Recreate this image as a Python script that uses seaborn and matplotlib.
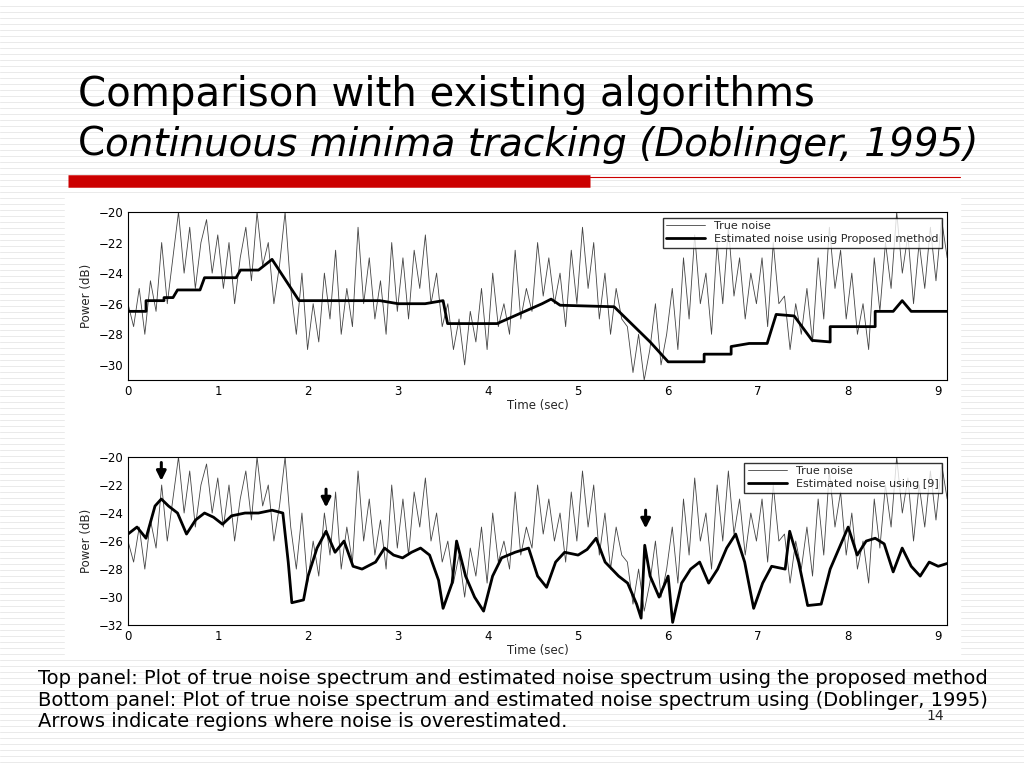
import numpy as np
import pandas as pd
import seaborn as sns
import matplotlib.pyplot as plt
from matplotlib.lines import Line2D

sns.set_style("white")
plt.rcParams['font.family'] = ['DejaVu Sans']

# true noise power (dB), evenly spaced over 0..9.1 s
true_noise = [-26, -27.5, -25, -28, -24.5, -26.5, -22, -26, -23,
              -20, -24, -21, -25, -22, -20.5, -24, -21.5,
              -25, -22, -26, -23, -21, -24.5, -20, -23.5,
              -22, -26, -23.5, -20, -25, -28, -24, -29,
              -26, -28.5, -24, -27, -22.5, -28, -25, -27.5,
              -21, -26, -23, -27, -24.5, -28, -22, -26.5,
              -23, -27, -22.5, -25, -21.5, -26, -24, -27.5,
              -26, -29, -27, -30, -26.5, -28.5, -25, -29,
              -24, -27.5, -26, -28, -22.5, -27, -25, -26.5,
              -22, -25.5, -23, -26, -24, -27.5, -22.5, -26,
              -21, -25, -22, -27, -24, -28, -25, -27,
              -27.5, -30.5, -28, -31, -29, -26, -30, -28,
              -25, -29, -23, -27, -21.5, -26, -24, -28,
              -22, -26, -21, -25.5, -23, -27, -24, -26,
              -23, -27.5, -22, -26, -25.5, -29, -26, -28,
              -25, -28.5, -23, -27, -21, -25, -22.5, -27,
              -24, -28, -26, -29, -23, -26.5, -22, -25,
              -20, -24, -21.5, -26, -22, -25, -21, -24.5, -20.5, -23]
true_time = np.linspace(0, 9.1, len(true_noise))

# proposed method estimate
prop_time = [0, 0.2, 0.2, 0.4, 0.4, 0.5, 0.55, 0.8, 0.85, 1.2, 1.25, 1.45, 1.6,
             1.9, 2.8, 3.0, 3.3, 3.5, 3.55, 4.1, 4.6, 4.7, 4.8, 5.4, 5.8, 6.0,
             6.4, 6.4, 6.7, 6.7, 6.9, 7.1, 7.2, 7.4, 7.6, 7.8, 7.8, 8.3, 8.3,
             8.5, 8.6, 8.7, 9.1]
prop_val = [-26.5, -26.5, -25.8, -25.8, -25.6, -25.6, -25.1, -25.1, -24.3, -24.3,
            -23.8, -23.8, -23.1, -25.8, -25.8, -26.0, -26.0, -25.8, -27.3, -27.3,
            -26.0, -25.7, -26.1, -26.2, -28.5, -29.8, -29.8, -29.3, -29.3, -28.8,
            -28.6, -28.6, -26.7, -26.8, -28.4, -28.5, -27.5, -27.5, -26.5, -26.5,
            -25.8, -26.5, -26.5]

# Doblinger (1995) estimate
dob_time = [0, 0.1, 0.2, 0.3, 0.37, 0.45, 0.55, 0.65, 0.75, 0.85, 0.95, 1.05, 1.15,
            1.3, 1.45, 1.6, 1.72, 1.78, 1.82, 1.95, 2.0, 2.1, 2.2, 2.3, 2.4, 2.5,
            2.6, 2.75, 2.85, 2.95, 3.05, 3.15, 3.25, 3.35, 3.45, 3.5, 3.6, 3.65,
            3.75, 3.85, 3.95, 4.05, 4.15, 4.3, 4.45, 4.55, 4.65, 4.75, 4.85, 5.0,
            5.1, 5.2, 5.3, 5.45, 5.55, 5.65, 5.7, 5.74, 5.8, 5.9, 6.0, 6.05, 6.15,
            6.25, 6.35, 6.45, 6.55, 6.65, 6.75, 6.85, 6.95, 7.05, 7.15, 7.3, 7.35,
            7.45, 7.55, 7.7, 7.8, 7.9, 8.0, 8.1, 8.2, 8.3, 8.4, 8.5, 8.6, 8.7, 8.8,
            8.9, 9.0, 9.1]
dob_val = [-25.5, -25.0, -25.8, -23.5, -23.0, -23.5, -24.0, -25.5, -24.5, -24.0,
           -24.3, -24.8, -24.2, -24.0, -24.0, -23.8, -24.0, -27.5, -30.4, -30.2,
           -28.5, -26.5, -25.3, -26.8, -26.0, -27.8, -28.0, -27.5, -26.5, -27.0,
           -27.2, -26.8, -26.5, -27.0, -28.8, -30.8, -29.0, -26.0, -28.5, -30.0,
           -31.0, -28.5, -27.2, -26.8, -26.5, -28.5, -29.3, -27.5, -26.8, -27.0,
           -26.6, -25.8, -27.5, -28.5, -29.0, -30.5, -31.5, -26.3, -28.5, -30.0,
           -28.5, -31.8, -29.0, -28.0, -27.5, -29.0, -28.0, -26.5, -25.5, -27.5,
           -30.8, -29.0, -27.8, -28.0, -25.3, -27.5, -30.6, -30.5, -28.0, -26.5,
           -25.0, -27.0, -26.0, -25.8, -26.2, -28.2, -26.5, -27.8, -28.5, -27.5,
           -27.8, -27.6]

arrow_x = [0.37, 2.2, 5.75]
arrow_y = [-21.9, -23.8, -25.3]

fig = plt.figure(figsize=(10.24, 7.68), dpi=100)

# slide background stripes
for y in np.arange(0, 1, 6 / 768):
    fig.add_artist(Line2D([0, 1], [y, y], color='#e6e6e6', lw=0.6, zorder=-5))
fig.patches.append(plt.Rectangle((65 / 1024, 113 / 768), 895 / 1024, 460 / 768,
                                 transform=fig.transFigure, color='white', zorder=-4))

fig.text(78 / 1024, 1 - 95 / 768, "Comparison with existing algorithms", fontsize=29,
         va='center', color='black')
c = fig.text(78 / 1024, 1 - 145 / 768, "C", fontsize=28, va='center', color='black')
fig.canvas.draw()
bb = c.get_window_extent()
fig.text(bb.x1 / 1024, 1 - 145 / 768, "ontinuous minima tracking (Doblinger, 1995)",
         fontsize=28, style='italic', va='center', color='black')
fig.add_artist(Line2D([68 / 1024, 590 / 1024], [1 - 181 / 768] * 2, color='#cc0000',
                      lw=9, solid_capstyle='butt'))
fig.add_artist(Line2D([590 / 1024, 960 / 1024], [1 - 177 / 768] * 2, color='#cc0000', lw=0.8))

df_true = pd.DataFrame({'t': true_time, 'p': true_noise})
panels = [
    (0.505, pd.DataFrame({'t': prop_time, 'p': prop_val}),
     "Estimated noise using Proposed method", (-31, -20), [-30, -28, -26, -24, -22, -20]),
    (0.186, pd.DataFrame({'t': dob_time, 'p': dob_val}),
     "Estimated noise using [9]", (-32, -20), [-32, -30, -28, -26, -24, -22, -20]),
]
for bottom, df_est, label, ylim, yticks in panels:
    ax = fig.add_axes([0.125, bottom, 0.8, 0.219])
    sns.lineplot(data=df_true, x='t', y='p', ax=ax, color='#444444', lw=0.6,
                 estimator=None, sort=False, label="True noise")
    sns.lineplot(data=df_est, x='t', y='p', ax=ax, color='black', lw=2,
                 estimator=None, sort=False, label=label)
    ax.set_xlim(0, 9.1)
    ax.set_ylim(*ylim)
    ax.set_yticks(yticks)
    ax.set_xticks(range(10))
    ax.tick_params(labelsize=8.5, direction='in', length=3, colors='black')
    ax.set_xlabel("Time (sec)", fontsize=8.5, labelpad=1)
    ax.set_ylabel("Power (dB)", fontsize=8.5)
    for s in ax.spines.values():
        s.set_linewidth(0.8)
        s.set_color('black')
    ax.legend(loc='upper right', fontsize=8, frameon=True, fancybox=False,
              edgecolor='black', borderpad=0.3, labelspacing=0.3, handlelength=3.5)

for x, y in zip(arrow_x, arrow_y):
    ax.annotate('', xy=(x, y), xytext=(x, y + 1.7),
                arrowprops=dict(arrowstyle='-|>', color='black', lw=2.2, mutation_scale=14))

foot = ("Top panel: Plot of true noise spectrum and estimated noise spectrum using the proposed method\n"
        "Bottom panel: Plot of true noise spectrum and estimated noise spectrum using (Doblinger, 1995)\n"
        "Arrows indicate regions where noise is overestimated.")
fig.text(38 / 1024, 1 - 700 / 768, foot, fontsize=14, va='center', linespacing=1.15,
         color='black')
fig.text(935 / 1024, 1 - 716 / 768, "14", fontsize=10, ha='center', va='center')

fig.savefig("out.png", dpi=100)
